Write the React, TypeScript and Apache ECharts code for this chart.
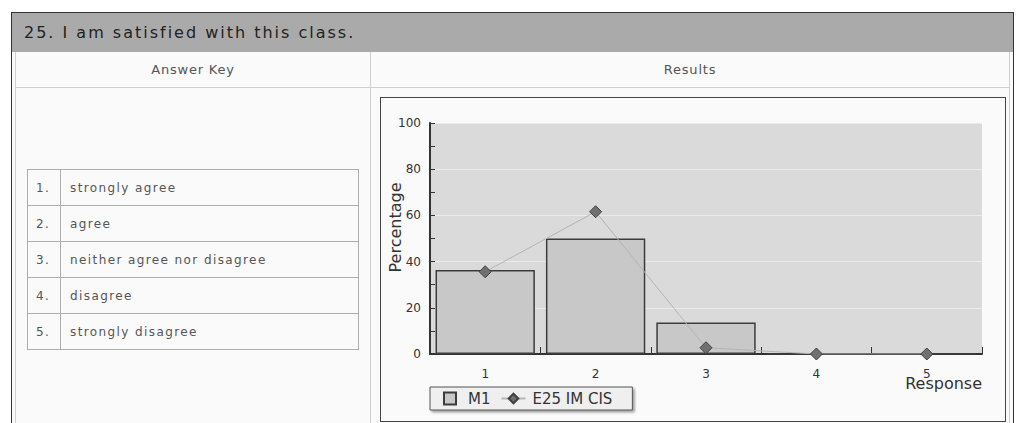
import React, { useEffect, useRef } from 'react';
import * as echarts from 'echarts';

const questionTitle = '25. I am satisfied with this class.';
const categories = ['1', '2', '3', '4', '5'];
const m1Values = [36.4, 50.0, 13.6, 0, 0];
const e25Values = [35.6, 61.6, 2.7, 0, 0];
const answerNumbers = ['1.', '2.', '3.', '4.', '5.'];
const answerLabels = ['strongly agree', 'agree', 'neither agree nor disagree', 'disagree', 'strongly disagree'];

const FONT = "'DejaVu Sans', Verdana, sans-serif";

function Chart() {
  const ref = useRef<HTMLDivElement>(null);
  useEffect(() => {
    if (!ref.current) return;
    const chart = echarts.init(ref.current, undefined, { renderer: 'svg' });
    chart.setOption({
      animation: false,
      textStyle: { fontFamily: FONT },
      grid: {
        left: 49,
        top: 25,
        right: 23,
        bottom: 67,
        show: true,
        backgroundColor: '#dadada',
        borderWidth: 0,
        containLabel: false,
        outerBoundsMode: 'none',
      },
      legend: {
        left: 49,
        top: 289,
        orient: 'horizontal',
        padding: [4, 20, 4, 8],
        itemGap: 10,
        itemWidth: 24,
        itemHeight: 12,
        borderColor: '#555',
        borderWidth: 1,
        backgroundColor: '#efefef',
        shadowColor: 'rgba(0,0,0,0.35)',
        shadowBlur: 2,
        shadowOffsetX: 2,
        shadowOffsetY: 2,
        textStyle: { fontSize: 15, color: '#333', fontFamily: FONT },
        data: [
          { name: 'M1', icon: 'path://M0,6 M5,0 L17,0 L17,12 L5,12 Z M24,6' },
          { name: 'E25 IM CIS', textStyle: { padding: [0, 0, 0, 2] } },
        ],
      },
      graphic: [
        {
          type: 'text',
          x: 14,
          y: 129.5,
          rotation: Math.PI / 2,
          style: {
            text: 'Percentage',
            fontSize: 16,
            fontFamily: FONT,
            fill: '#333',
            align: 'center',
            verticalAlign: 'middle',
          },
        },
        {
          type: 'text',
          x: 601,
          y: 285,
          style: {
            text: 'Response',
            fontSize: 16,
            fontFamily: FONT,
            fill: '#333',
            align: 'right',
            verticalAlign: 'middle',
          },
        },
      ],
      xAxis: {
        type: 'category',
        data: categories,
        boundaryGap: true,
        axisLine: { show: true, lineStyle: { color: '#333', width: 2 } },
        axisTick: { show: true, inside: true, length: 7, alignWithLabel: false, lineStyle: { color: '#333', width: 1 } },
        axisLabel: { margin: 14, fontSize: 12, color: '#333' },
        splitLine: { show: false },
      },
      yAxis: {
        type: 'value',
        min: 0,
        max: 100,
        interval: 20,
        axisLine: { show: true, lineStyle: { color: '#333', width: 2 } },
        axisTick: { show: true, inside: true, length: 5, lineStyle: { color: '#333', width: 1 } },
        minorTick: { show: true, splitNumber: 2, length: 5, lineStyle: { color: '#333', width: 1 } },
        axisLabel: { margin: 9, fontSize: 12, color: '#333' },
        splitLine: { show: true, lineStyle: { color: '#ebebeb', width: 1 } },
      },
      series: [
        {
          name: 'M1',
          type: 'bar',
          data: m1Values,
          barWidth: '90%',
          itemStyle: { color: '#c8c8c8', borderColor: '#3c3c3c', borderWidth: 1.5 },
          z: 2,
        },
        {
          name: 'E25 IM CIS',
          type: 'line',
          data: e25Values,
          symbol: 'diamond',
          symbolSize: 12,
          showAllSymbol: true,
          lineStyle: { color: '#b4b4b4', width: 1 },
          itemStyle: { color: '#707070', borderColor: '#404040', borderWidth: 1 },
          z: 3,
        },
      ],
    });
    return () => chart.dispose();
  }, []);
  return <div ref={ref} style={{ width: 624, height: 323 }} />;
}

export default function App() {
  const cellBorder = '1px solid #adadad';
  return (
    <div style={{ position: 'absolute', left: 0, top: 0, width: 1016, height: 423, overflow: 'hidden', background: '#ffffff', fontFamily: FONT }}>
      {/* outer frame */}
      <div style={{ position: 'absolute', left: 11, top: 12, width: 1003, height: 430, border: '1px solid #333', boxSizing: 'border-box', background: '#fafafa' }} />
      {/* header bar */}
      <div
        style={{
          position: 'absolute',
          left: 12,
          top: 13,
          width: 1001,
          height: 39,
          background: '#aaaaaa',
          color: '#222',
          fontSize: 16,
          letterSpacing: '2px',
          lineHeight: '39px',
          paddingLeft: 12,
          boxSizing: 'border-box',
          whiteSpace: 'nowrap',
        }}
      >
        {questionTitle}
      </div>
      {/* inner table frame */}
      <div style={{ position: 'absolute', left: 15, top: 52, width: 995, height: 400, borderLeft: '1px solid #cfcfcf', borderRight: '1px solid #cfcfcf', boxSizing: 'border-box' }} />
      {/* header row bottom line */}
      <div style={{ position: 'absolute', left: 15, top: 87, width: 995, height: 1, background: '#cfcfcf' }} />
      {/* column divider */}
      <div style={{ position: 'absolute', left: 370, top: 52, width: 1, height: 400, background: '#cfcfcf' }} />
      {/* column headers */}
      <div style={{ position: 'absolute', left: 16, top: 52, width: 354, height: 35, lineHeight: '35px', textAlign: 'center', fontSize: 13, color: '#555', letterSpacing: '0.8px' }}>
        Answer Key
      </div>
      <div style={{ position: 'absolute', left: 371, top: 52, width: 638, height: 35, lineHeight: '35px', textAlign: 'center', fontSize: 13, color: '#555', letterSpacing: '0.8px' }}>
        Results
      </div>
      {/* answer list */}
      <table
        style={{
          position: 'absolute',
          left: 27,
          top: 169,
          width: 332,
          borderCollapse: 'collapse',
          fontSize: 12,
          color: '#555',
          letterSpacing: '1.4px',
          background: '#fafafa',
        }}
      >
        <tbody>
          {answerLabels.map((label, i) => (
            <tr key={i} style={{ height: 36 }}>
              <td style={{ border: cellBorder, width: 33, padding: '0 0 0 8px', boxSizing: 'border-box' }}>{answerNumbers[i]}</td>
              <td style={{ border: cellBorder, padding: '0 0 0 9px' }}>{label}</td>
            </tr>
          ))}
        </tbody>
      </table>
      {/* chart box */}
      <div style={{ position: 'absolute', left: 380, top: 97, width: 626, height: 325, border: '1px solid #444', boxSizing: 'border-box', background: '#fafafa' }}>
        <Chart />
      </div>
    </div>
  );
}
